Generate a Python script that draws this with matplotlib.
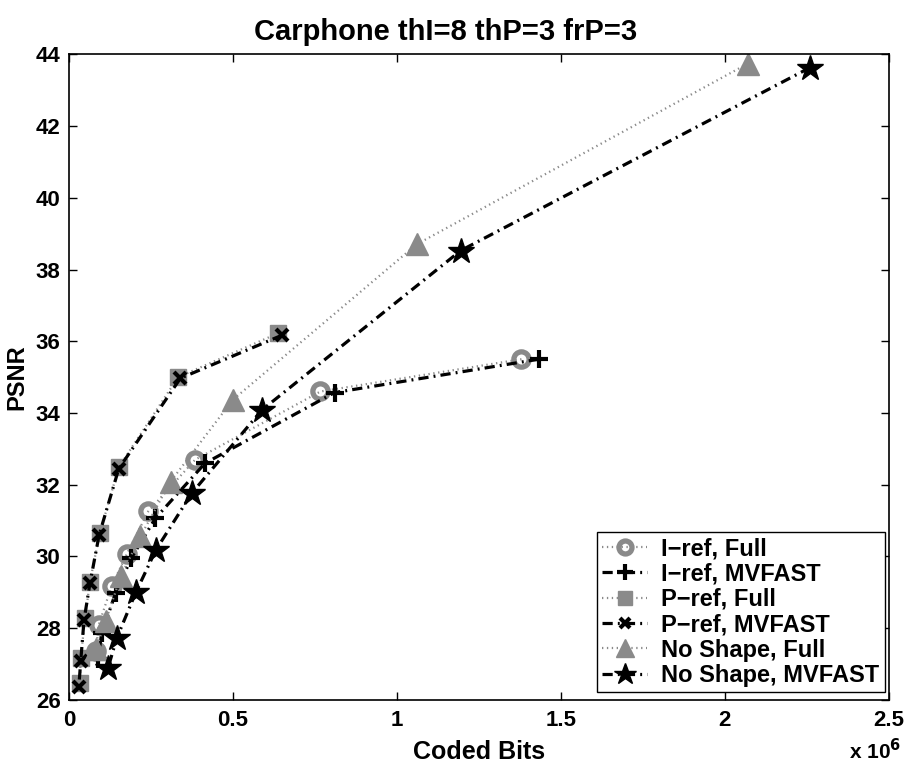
import numpy as np
import matplotlib
matplotlib.use("Agg")
import matplotlib.pyplot as plt
from matplotlib.ticker import FuncFormatter

plt.rcParams['font.family'] = ['Liberation Sans', 'DejaVu Sans']
plt.rcParams['font.weight'] = 'bold'

# coded bits / PSNR
iref_full_x = [1.38e6, 0.767e6, 0.385e6, 0.242e6, 0.176e6, 0.13e6, 0.091e6, 0.082e6]
iref_full_y = [35.5, 34.6, 32.7, 31.26, 30.06, 29.17, 28.1, 27.36]
iref_mv_x = [1.433e6, 0.81e6, 0.415e6, 0.263e6, 0.19e6, 0.142e6, 0.1e6, 0.088e6]
iref_mv_y = [35.5, 34.57, 32.6, 31.06, 29.95, 28.98, 27.86, 27.14]

pref_full_x = [0.637e6, 0.333e6, 0.152e6, 0.094e6, 0.064e6, 0.049e6, 0.036e6, 0.033e6]
pref_full_y = [36.22, 35.0, 32.49, 30.65, 29.29, 28.28, 27.17, 26.47]
pref_mv_x = [0.65e6, 0.34e6, 0.152e6, 0.092e6, 0.064e6, 0.046e6, 0.036e6, 0.03e6]
pref_mv_y = [36.17, 34.97, 32.45, 30.6, 29.25, 28.23, 27.1, 26.36]

noshape_full_x = [2.07e6, 1.06e6, 0.5e6, 0.31e6, 0.218e6, 0.158e6, 0.112e6, 0.082e6]
noshape_full_y = [43.74, 38.7, 34.37, 32.09, 30.56, 29.45, 28.2, 27.42]
noshape_mv_x = [2.26e6, 1.195e6, 0.588e6, 0.375e6, 0.265e6, 0.204e6, 0.146e6, 0.119e6]
noshape_mv_y = [43.63, 38.53, 34.08, 31.77, 30.18, 29.0, 27.73, 26.89]

labels = ["I\u2212ref, Full", "I\u2212ref, MVFAST", "P\u2212ref, Full",
          "P\u2212ref, MVFAST", "No Shape, Full", "No Shape, MVFAST"]

GRAY = '#8a8a8a'

fig = plt.figure(figsize=(9.05, 7.65), dpi=100)
ax = fig.add_axes([0.0762, 0.085, 0.9058, 0.844])

full_style = dict(color=GRAY, linestyle=(0, (0.6, 1.6)), linewidth=1.6)
mv_style = dict(color='black', linestyle=(0, (3.2, 1.6, 0.6, 1.6)), linewidth=2.3)

ax.plot(iref_full_x, iref_full_y, marker='o', markersize=11, markerfacecolor='none',
        markeredgecolor=GRAY, markeredgewidth=3.8, label=labels[0], **full_style)
ax.plot(iref_mv_x, iref_mv_y, marker='+', markersize=13, markeredgecolor='black',
        markeredgewidth=3, label=labels[1], **mv_style)
ax.plot(pref_full_x, pref_full_y, marker='s', markersize=11.5, markerfacecolor=GRAY,
        markeredgecolor=GRAY, markeredgewidth=1, label=labels[2], **full_style)
ax.plot(pref_mv_x, pref_mv_y, marker='x', markersize=8, markeredgecolor='black',
        markeredgewidth=3, label=labels[3], **mv_style)
ax.plot(noshape_full_x, noshape_full_y, marker='^', markersize=16, markerfacecolor=GRAY,
        markeredgecolor=GRAY, markeredgewidth=1, label=labels[4], **full_style)
ax.plot(noshape_mv_x, noshape_mv_y, marker='*', markersize=19, markerfacecolor='black',
        markeredgecolor='black', markeredgewidth=1, label=labels[5], **mv_style)

ax.set_xlim(0, 2.5e6)
ax.set_ylim(26, 44)
ax.set_xticks(np.arange(0, 2.51e6, 0.5e6))
ax.set_yticks(np.arange(26, 45, 2))
ax.xaxis.set_major_formatter(FuncFormatter(lambda v, p: ('%g' % (v / 1e6))))
ax.tick_params(direction='in', top=True, right=True, length=6, width=1,
               labelsize=16)
ax.tick_params(axis='x', pad=7)
ax.tick_params(axis='y', pad=6)
for lab in ax.get_xticklabels() + ax.get_yticklabels():
    lab.set_fontweight('bold')
for s in ax.spines.values():
    s.set_linewidth(1.2)

ax.set_title("Carphone thI=8 thP=3 frP=3", fontsize=21, fontweight='bold',
             pad=10, x=0.459)
ax.set_xlabel("Coded Bits", fontsize=18, fontweight='bold')
ax.xaxis.set_label_coords(0.5, -0.062)
ax.set_ylabel("PSNR", fontsize=17, fontweight='bold')
ax.yaxis.set_label_coords(-0.049, 0.5)
fig.text(0.967, 0.008, r"x 10$^{\mathbf{6}}$", fontsize=15, fontweight='bold',
         ha='center', va='baseline')

leg = ax.legend(loc='lower right', bbox_to_anchor=(0.995, 0.012), fontsize=17,
                frameon=True, fancybox=False, edgecolor='black', framealpha=1,
                handlelength=1.9, handletextpad=0.6, borderpad=0.22,
                labelspacing=0.1, borderaxespad=0, markerscale=0.85)
leg.get_frame().set_linewidth(1.0)
for t in leg.get_texts():
    t.set_fontweight('bold')

fig.savefig("out.png", dpi=100)
